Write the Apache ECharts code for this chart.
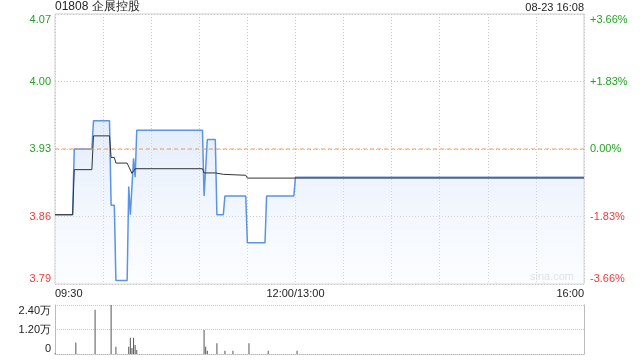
<!DOCTYPE html>
<html>
<head>
<meta charset="utf-8">
<script src="https://cdn.jsdelivr.net/npm/echarts@6/dist/echarts.min.js"></script>
<style>html,body{margin:0;padding:0;background:#fff}#c{width:640px;height:360px}</style>
</head>
<body>
<div id="c"></div>
<script>
// ---- data ----
const stockTitle = '01808 企展控股';
const stampText = '08-23 16:08';
const prevClose = 3.93;
const pctRange = 3.66; // percent
// trading minutes since 09:30 (12:00 and 13:00 share minute 150)
const priceT = [0, 11, 12, 23, 24, 34, 35, 37, 38, 45, 46, 47, 48, 49, 50, 51, 92, 93, 95, 100, 101, 105, 106, 119, 120, 131, 132, 149, 150, 330];
const priceV = [3.86, 3.86, 3.93, 3.93, 3.96, 3.96, 3.87, 3.87, 3.79, 3.79, 3.89, 3.86, 3.86, 3.92, 3.90, 3.95, 3.95, 3.88, 3.94, 3.94, 3.86, 3.86, 3.88, 3.88, 3.83, 3.83, 3.88, 3.88, 3.90, 3.90];
const avgT = [0, 11, 12, 23, 24, 34, 35, 37, 38, 45, 48, 50, 92, 93, 100, 101, 105, 106, 119, 120, 330];
const avgV = [3.86, 3.86, 3.908, 3.908, 3.944, 3.944, 3.921, 3.921, 3.915, 3.915, 3.904, 3.909, 3.909, 3.9045, 3.9045, 3.903, 3.903, 3.902, 3.902, 3.899, 3.899];
const volT = [0, 13, 25, 35, 38, 46, 47, 48, 49, 50, 51, 93, 94, 95, 101, 106, 111, 121, 133, 151];
const volV = [400, 5600, 21700, 24000, 3600, 3600, 8000, 3000, 8000, 4400, 2000, 11800, 3500, 1600, 5300, 1600, 1600, 5300, 1600, 1600];
const timeTickPos = [0, 150, 330];
const timeTickLabels = ['09:30', '12:00/13:00', '16:00'];
const volMax = 24000;

const GREEN = '#22a322', RED = '#f03a3a';
const chart = echarts.init(document.getElementById('c'), null, {renderer: 'canvas'});
const zip = (a, b) => a.map((t, i) => [t, b[i]]);
const pMin = prevClose * (1 - pctRange / 100);
const pMax = prevClose * (1 + pctRange / 100);
const pInt = prevClose * pctRange / 200;
const font = 'Liberation Sans, Arial, sans-serif';

chart.setOption({
  animation: false,
  title: {text: stockTitle, left: 55, top: 1, padding: 0, textStyle: {fontSize: 12, fontWeight: 'normal', color: '#222', fontFamily: font}},
  graphic: [
    {type: 'text', right: 56, top: 2, style: {text: stampText, fontSize: 11, fill: '#222', fontFamily: font}},
    {type: 'text', right: 66, top: 271, style: {text: 'sina.com', fontSize: 11, fill: '#dadada', fontFamily: font}}
  ],
  grid: [
    {left: 55, right: 56, top: 14, height: 270, show: true, borderColor: '#cfcfcf', borderWidth: 1},
    {left: 55, right: 56, top: 305, height: 49, show: true, borderColor: 'transparent'}
  ],
  xAxis: [
    {type: 'value', gridIndex: 0, min: 0, max: 330, interval: 30,
     axisLine: {show: false}, axisTick: {show: false},
     splitLine: {show: true, lineStyle: {type: [1, 2], color: '#c8c8c8'}},
     axisLabel: {show: true, margin: 4, fontSize: 11, color: '#222', fontFamily: font,
       alignMinLabel: 'left', alignMaxLabel: 'right', showMinLabel: true, showMaxLabel: true,
       formatter: v => { const i = timeTickPos.indexOf(v); return i >= 0 ? timeTickLabels[i] : ''; }}},
    {type: 'value', gridIndex: 1, min: 0, max: 330, interval: 30,
     axisLine: {show: true, lineStyle: {color: '#bbb', type: [1, 1]}}, axisTick: {show: false},
     splitLine: {show: false}, axisLabel: {show: false}}
  ],
  yAxis: [
    {type: 'value', gridIndex: 0, min: pMin, max: pMax, interval: pInt, position: 'left',
     axisLine: {show: false}, axisTick: {show: false},
     splitLine: {show: true, lineStyle: {type: [1, 2], color: '#c8c8c8'}},
     axisLabel: {margin: 4, fontSize: 11, fontFamily: font,
       verticalAlignMaxLabel: 'top', verticalAlignMinLabel: 'bottom',
       formatter: v => v.toFixed(2),
       color: v => (v >= prevClose - 1e-6 ? GREEN : RED)}},
    {type: 'value', gridIndex: 0, min: -pctRange, max: pctRange, interval: pctRange / 2, position: 'right',
     axisLine: {show: false}, axisTick: {show: false}, splitLine: {show: false},
     axisLabel: {margin: 6, fontSize: 11, fontFamily: font,
       verticalAlignMaxLabel: 'top', verticalAlignMinLabel: 'bottom',
       formatter: v => (Math.abs(v) < 1e-9 ? '0.00%' : (v > 0 ? '+' : '') + v.toFixed(2) + '%'),
       color: v => (v > -1e-9 ? GREEN : RED)}},
    {type: 'value', gridIndex: 1, min: 0, max: volMax, interval: volMax / 2,
     axisLine: {show: true, lineStyle: {color: '#bbb'}}, axisTick: {show: false},
     splitLine: {show: true, lineStyle: {type: [1, 1], color: '#c8c8c8'}},
     axisLabel: {margin: 4, fontSize: 11, color: '#222', fontFamily: font,
       verticalAlignMaxLabel: 'top', verticalAlignMinLabel: 'bottom',
       formatter: v => (v === 0 ? '0' : (v / 10000).toFixed(2) + '万')}},
    {type: 'value', gridIndex: 1, min: 0, max: volMax, position: 'right',
     axisLine: {show: true, lineStyle: {color: '#bbb'}}, axisTick: {show: false},
     splitLine: {show: false}, axisLabel: {show: false}}
  ],
  series: [
    {type: 'line', xAxisIndex: 0, yAxisIndex: 0, data: zip(priceT, priceV), symbol: 'none',
     lineStyle: {color: '#5b93e8', width: 1.5},
     areaStyle: {origin: 'start', color: new echarts.graphic.LinearGradient(0, 0, 0, 1, [
       {offset: 0, color: 'rgba(205,222,248,0.8)'}, {offset: 1, color: 'rgba(240,246,255,0.4)'}])},
     z: 3},
    {type: 'line', xAxisIndex: 0, yAxisIndex: 0, data: [[0, prevClose], [330, prevClose]], symbol: 'none',
     silent: true, lineStyle: {color: '#f39a5c', type: [4, 3], width: 1}, z: 5},
    {type: 'line', xAxisIndex: 0, yAxisIndex: 0, data: zip(avgT, avgV), symbol: 'none',
     lineStyle: {color: '#333', width: 1}, z: 4},
    {type: 'bar', xAxisIndex: 1, yAxisIndex: 2, data: zip(volT, volV), barWidth: 1,
     itemStyle: {color: '#555'}}
  ]
});
</script>
</body>
</html>
